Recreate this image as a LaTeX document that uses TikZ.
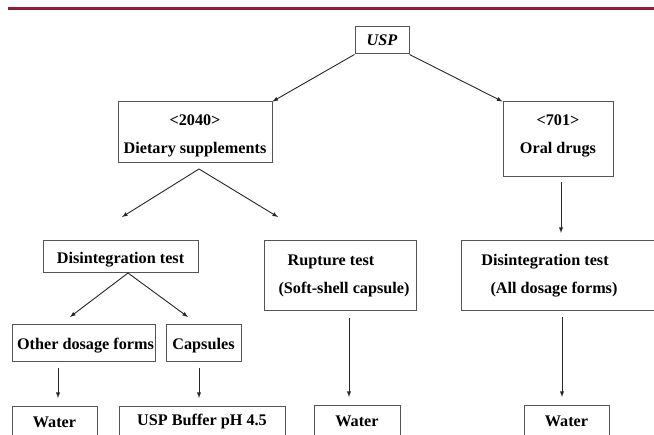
\documentclass[tikz,border=0pt]{standalone}
\usepackage{fontspec}
\setmainfont{Liberation Serif}
\usetikzlibrary{positioning}

\definecolor{rulered}{RGB}{135,35,55}
\definecolor{boxgray}{RGB}{85,85,85}

\begin{document}
\begin{tikzpicture}[x=1pt,y=-1pt,
arr/.style={draw=black!85,line width=0.9pt,-latex}
]

\tikzstyle{b} = [draw=boxgray, line width=1pt, shape=rectangle, inner sep=0pt, align=center, font=\fontsize{16.2}{28}\selectfont\bfseries]
\tikzstyle{t} = [inner sep=0pt, align=center, font=\fontsize{16.2}{28}\selectfont\bfseries]

\useasboundingbox (0,0) rectangle (654,435);
\draw[rulered, line width=2.5pt] (8,8.5) -- (654,8.5);

% top levels
\node[b, minimum width=54pt, minimum height=27pt] (usp) at (382,40.5) {\itshape USP};
\node[b, minimum width=154pt, minimum height=61pt,
  label={[t,yshift=-3pt]center:{<2040>\\Dietary supplements}}] (diet) at (195,132.5) {};
\node[b, minimum width=110pt, minimum height=75pt,
  label={[t,yshift=3.5pt]center:{<701>\\Oral drugs}}] (oral) at (558,139.5) {};

% tests
\node[b, minimum width=155pt, minimum height=32pt,
  label={[t,yshift=-3pt]center:{Disintegration test}}] (dis1) at (120.5,257) {};
\node[b, minimum width=152pt, minimum height=70pt,
  label={[t,xshift=4pt]center:{Rupture test\hspace*{26pt}\\(Soft-shell capsule)}}] (rup) at (340,276) {};
\node[b, minimum width=219pt, minimum height=70pt,
  label={[t,xshift=-16.5pt]center:{Disintegration test\hspace*{18pt}\\(All dosage forms)}}] (dis2) at (570.5,276) {};

% forms
\node[b, minimum width=143pt, minimum height=37pt,
  label={[t,yshift=-2pt,xshift=2pt]center:{Other dosage forms}}] (other) at (83.5,343.5) {};
\node[b, minimum width=75pt, minimum height=37pt,
  label={[t,yshift=-2pt]center:{Capsules}}] (caps) at (203.5,343.5) {};

% media
\node[b, minimum width=85pt, minimum height=30pt] (water1) at (54.5,422) {Water};
\node[b, minimum width=166pt, minimum height=30pt] (buffer) at (202,422) {USP Buffer pH 4.5};
\node[b, minimum width=86pt, minimum height=30pt] (water2) at (357,421) {Water};
\node[b, minimum width=85pt, minimum height=30pt] (water3) at (566.5,421) {Water};

% arrow ends
\coordinate (ds) at (199,169);
\coordinate (dl) at (122,217);
\coordinate (dr) at (278,217);
\coordinate (os) at (561,182);
\coordinate (oe) at (561,233);
\coordinate (ts) at (128,273);
\coordinate (tl) at (70,317);
\coordinate (tr) at (188,317);
\coordinate (ws) at (58,368);
\coordinate (we) at (58,398);
\coordinate (cs) at (199,368);
\coordinate (ce) at (199,398);
\coordinate (rs) at (349,318);
\coordinate (re) at (349,397);
\coordinate (as) at (562,317);
\coordinate (ae) at (562,397);

\draw[arr] (usp.south west) -- (diet.north east);
\draw[arr] (usp.south east) -- (oral.north west);
\draw[arr] (ds) -- (dl);
\draw[arr] (ds) -- (dr);
\draw[arr] (os) -- (oe);
\draw[arr] (ts) -- (tl);
\draw[arr] (ts) -- (tr);
\draw[arr] (ws) -- (we);
\draw[arr] (cs) -- (ce);
\draw[arr] (rs) -- (re);
\draw[arr] (as) -- (ae);
\end{tikzpicture}
\end{document}
